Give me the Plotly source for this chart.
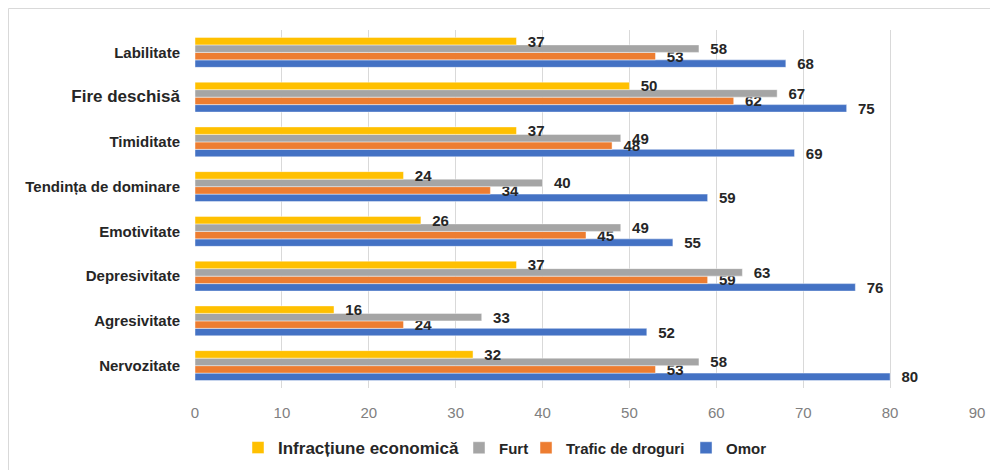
import plotly.graph_objects as go

categories = ["Nervozitate", "Agresivitate", "Depresivitate", "Emotivitate",
              "Tendința de dominare", "Timiditate", "Fire deschisă", "Labilitate"]
omor = [80, 52, 76, 55, 59, 69, 75, 68]
trafic = [53, 24, 59, 45, 34, 48, 62, 53]
furt = [58, 33, 63, 49, 40, 49, 67, 58]
economica = [32, 16, 37, 26, 24, 37, 50, 37]
x_ticks = [0, 10, 20, 30, 40, 50, 60, 70, 80, 90]

tick_text = [c if c != "Fire deschisă" else "<span style='font-size:17px'>Fire deschisă</span>"
             for c in categories]

FONT = "Liberation Sans, Arial, sans-serif"

# (name, values, colour, legend id, legend x, font size)
series = [
    ("Omor", omor, "#4472C4", "legend4", 0.6279, 15),
    ("Trafic de droguri", trafic, "#ED7D31", "legend3", 0.4233, 15),
    ("Furt", furt, "#A5A5A5", "legend2", 0.3376, 15),
    ("Infracțiune economică", economica, "#FFC000", "legend", 0.0550, 17),
]

# figure is offset 8px by the page body margin
W, H = 990, 462
L, T, PW, PH = 187, 22, 782, 358
R = W - L - PW
B = H - T - PH

fig = go.Figure()
legends = {}
for name, vals, color, lg, lx, fs in series:
    fig.add_trace(go.Bar(
        y=categories, x=vals, name=name, orientation="h",
        marker=dict(color=color, line=dict(color="rgba(255,255,255,0.6)", width=0.75)),
        text=[f"  {v}" for v in vals], textposition="outside",
        textfont=dict(family=FONT, size=15, color="#262626", weight="bold"),
        constraintext="none", cliponaxis=False, legend=lg,
    ))
    legends[lg] = dict(orientation="h", x=lx, xanchor="left",
                       y=(T + PH - 440) / PH, yanchor="middle",
                       bgcolor="rgba(0,0,0,0)", borderwidth=0,
                       font=dict(family=FONT, size=fs, color="#262626", weight="bold"),
                       itemwidth=30)

fig.update_layout(
    barmode="group", bargap=0.33, bargroupgap=0,
    width=W, height=H,
    margin=dict(l=L, r=R, t=T, b=B, autoexpand=False),
    paper_bgcolor="white", plot_bgcolor="white",
    showlegend=True,
    xaxis=dict(range=[0, 90], tickvals=x_ticks, showgrid=True, gridcolor="#D9D9D9", gridwidth=1,
               zeroline=False, showline=False, ticks="", ticklabelstandoff=14, automargin=False,
               tickfont=dict(family=FONT, size=15, color="#808080")),
    yaxis=dict(tickvals=categories, ticktext=tick_text, showgrid=False, zeroline=False, showline=False,
               ticks="", ticklabelstandoff=14, automargin=False,
               tickfont=dict(family=FONT, size=15, color="#262626", weight="bold")),
    shapes=[dict(type="rect", xref="paper", yref="paper",
                 x0=(0.5 - L) / PW, x1=(W + 10 - L) / PW,
                 y0=(T + PH - (H + 10)) / PH, y1=(T + PH - 0.5) / PH,
                 line=dict(color="#D9D9D9", width=1), layer="below")],
    **legends,
)

fig.write_html("out.html")
